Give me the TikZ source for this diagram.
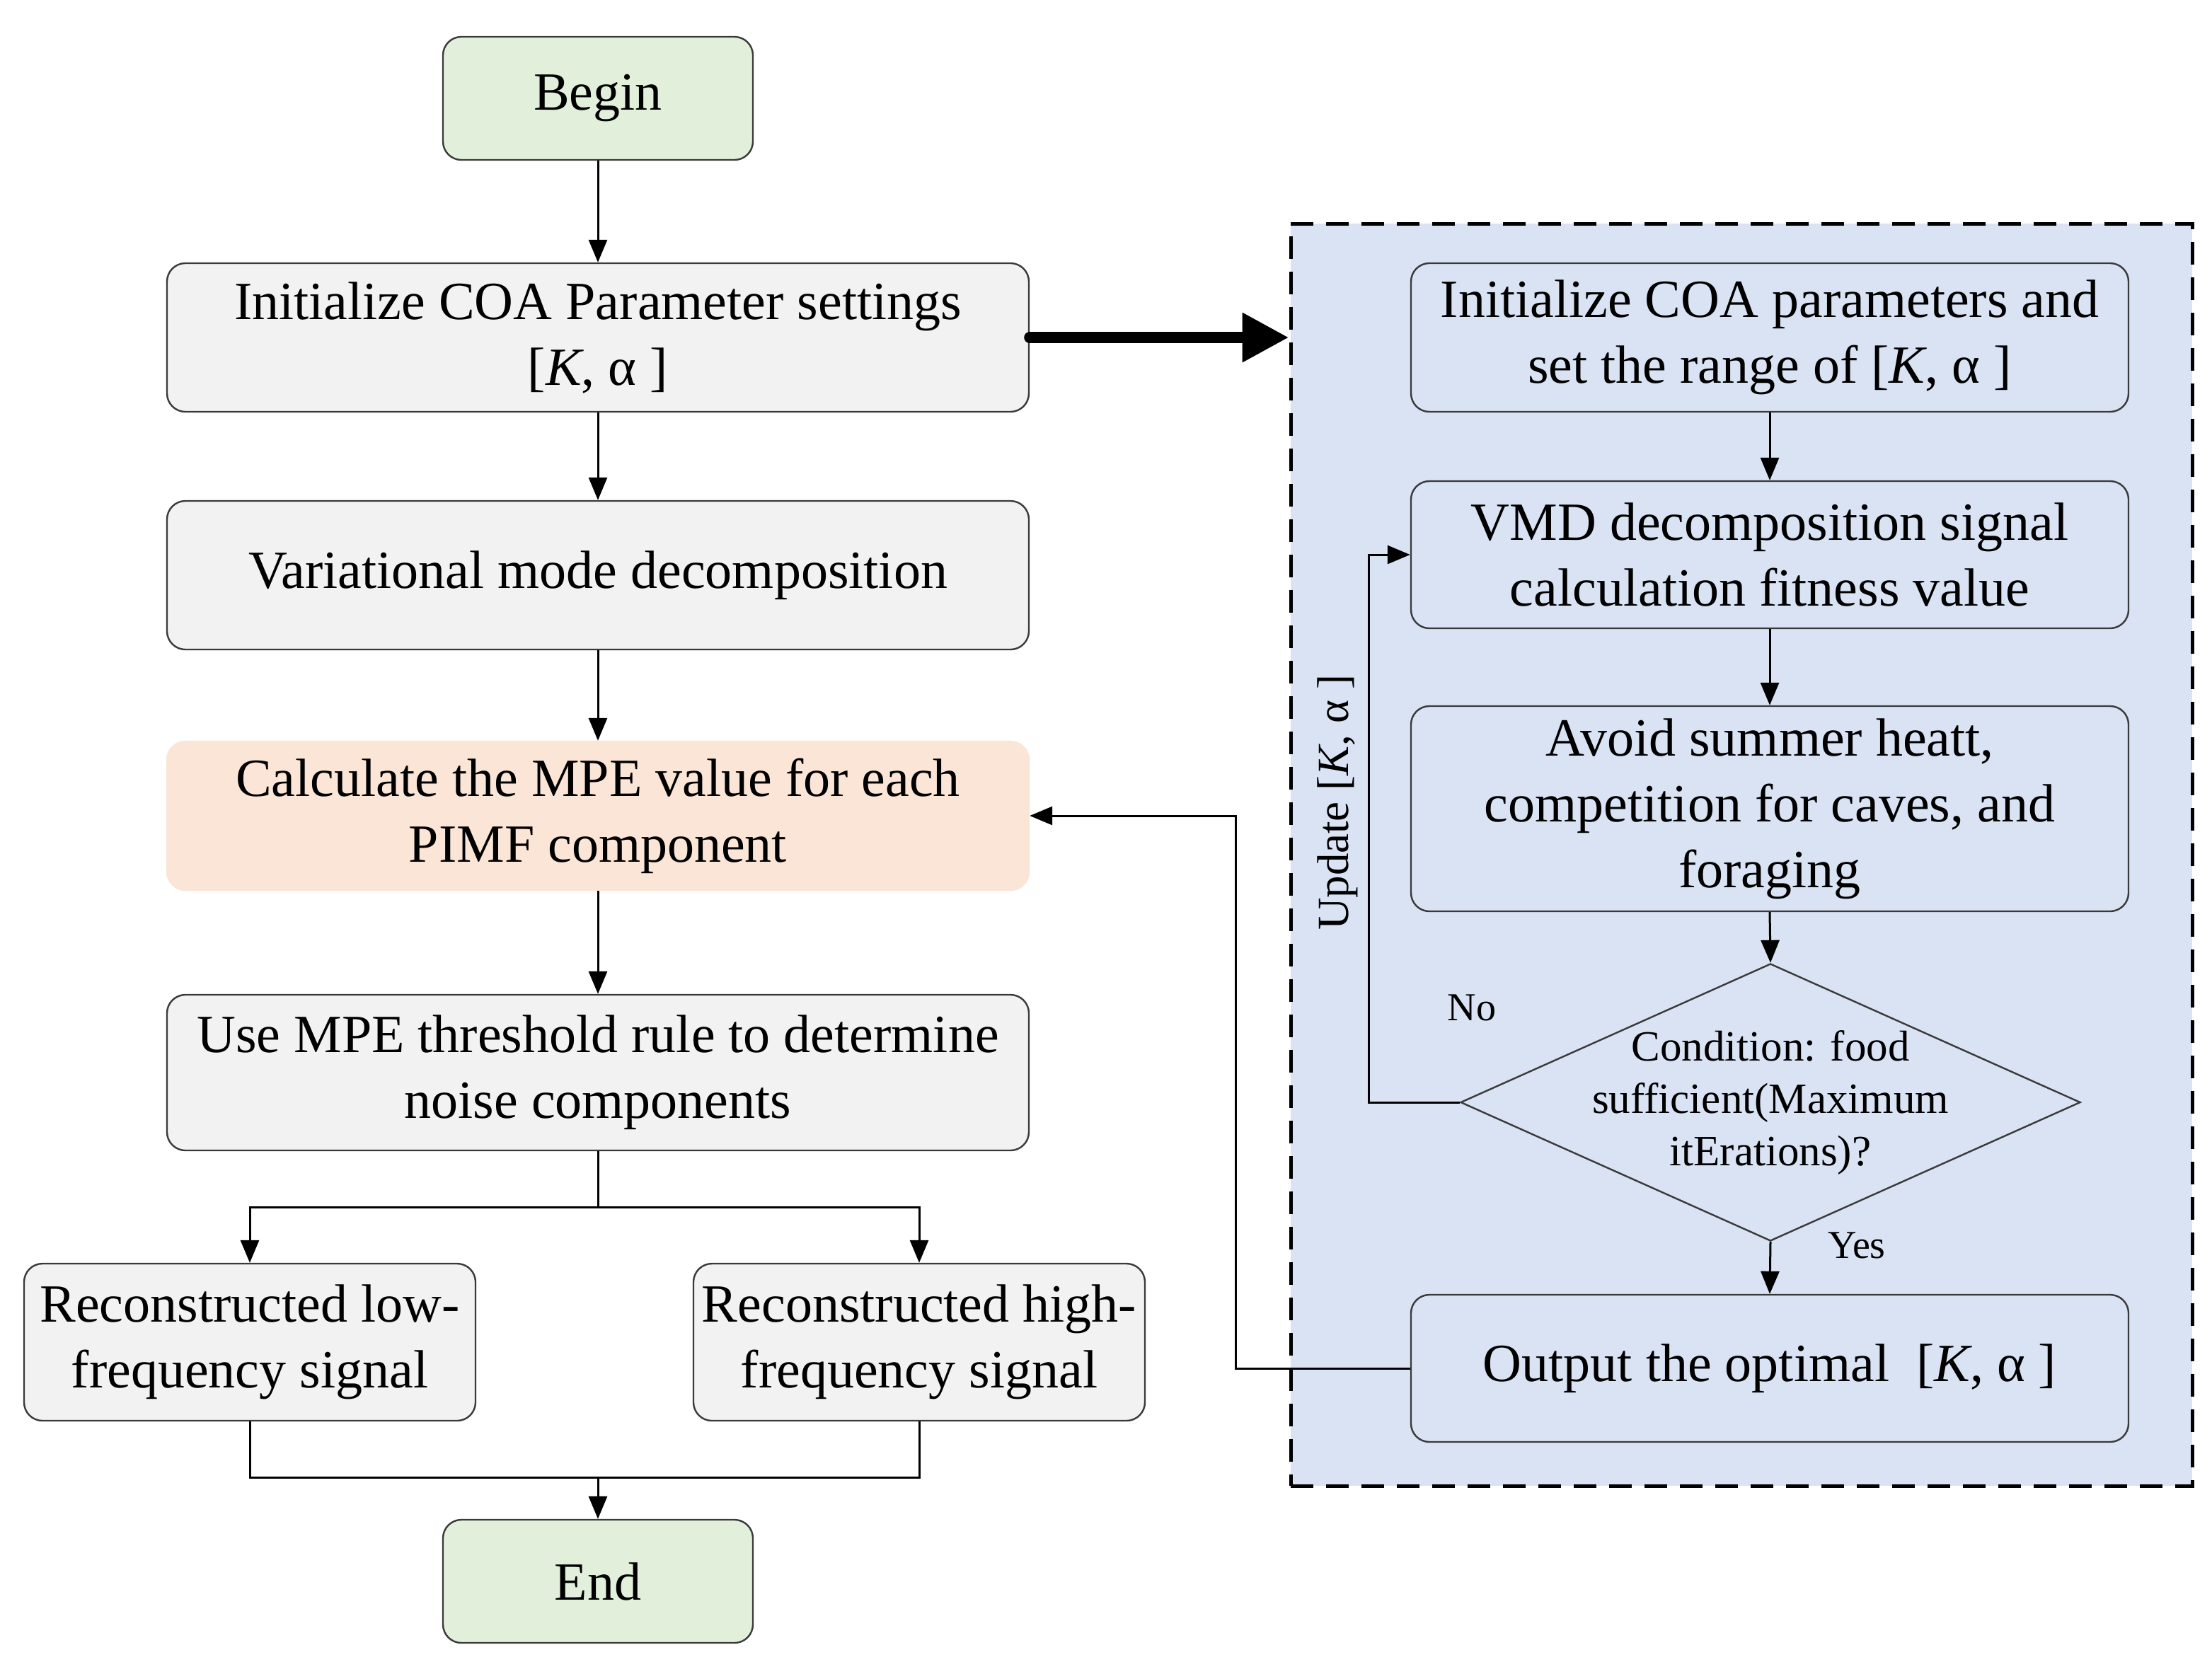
\documentclass[tikz,border=0pt]{standalone}
\usepackage{fontspec}
\setmainfont{Liberation Serif}
\usetikzlibrary{arrows.meta,shapes.geometric}
\definecolor{gfill}{HTML}{E2EFDA}
\definecolor{bfill}{HTML}{F2F2F2}
\definecolor{ofill}{HTML}{FBE5D6}
\definecolor{rfill}{HTML}{DAE3F3}
\definecolor{edge}{HTML}{3A3A3A}
\begin{document}
\begin{tikzpicture}[x=1bp,y=-1bp,
  basebox/.style={rectangle, rounded corners=13bp, draw=edge, line width=1.2bp, align=center, inner sep=0pt, font=\fontsize{38bp}{46.5bp}\selectfont},
  termbox/.style={basebox, fill=gfill, minimum width=219bp, minimum height=87bp},
  widebox/.style={basebox, fill=bfill, minimum width=609bp, minimum height=105bp},
  halfbox/.style={basebox, fill=bfill, minimum width=319bp, minimum height=111bp},
  rbox/.style={basebox, minimum width=507bp, minimum height=104bp},
  arr/.style={-{Triangle[length=16bp,width=13bp]}, line width=1.5bp, draw=black},
  plain/.style={line width=1.5bp, draw=black},
  bigarr/.style={-{Triangle[length=33bp,width=33bp]}, line width=8bp, line cap=round},
  lbl/.style={font=\fontsize{28bp}{34bp}\selectfont, inner sep=0pt}
]
\useasboundingbox (0,0) rectangle (1563,1170.5);
% dashed region
\node[rectangle, draw=black, fill=rfill, line width=2.5bp, dash pattern=on 16bp off 9bp, minimum width=637bp, minimum height=892bp, inner sep=0pt] (region) at (1230.5,604) {};
% left column
\node[termbox] (begin) at (422.5,69.5) {Begin};
\node[widebox] (init) at (422.5,238.5) {Initialize COA Parameter settings\\{}[\textit{K}, α ]};
\node[widebox] (vmd) at (422.5,406.5) {Variational mode decomposition};
\node[widebox, fill=ofill, draw=ofill] (mpe) at (422.5,576.5) {Calculate the MPE value for each\\PIMF component};
\node[widebox, minimum height=110bp] (thr) at (422.5,758) {Use MPE threshold rule to determine\\noise components};
\node[halfbox] (low) at (176.5,948.5) {Reconstructed low-\\frequency signal};
\node[halfbox] (high) at (649.5,948.5) {Reconstructed high-\\frequency signal};
\node[termbox] (end) at (422.5,1117.5) {End};
% right column
\node[rbox, minimum height=105bp] (r1) at (1250.5,238.5) {Initialize COA parameters and\\set the range of [\textit{K}, α ]};
\node[rbox] (r2) at (1250.5,392) {VMD decomposition signal\\calculation fitness value};
\node[rbox, minimum height=145bp] (r3) at (1250.5,571.5) {Avoid summer heatt,\\competition for caves, and\\foraging};
\node[diamond, draw=edge, line width=1.2bp, minimum width=438bp, minimum height=196bp, inner sep=0pt] (dia) at (1251,779) {};
\node[align=center, inner sep=0pt, font=\fontsize{30.5bp}{37bp}\selectfont] (diatext) at (1251,779) {Condition: food\\sufficient(Maximum\\itErations)?};
\node[rbox] (r5) at (1250.5,967) {Output the optimal\enspace[\textit{K}, α ]};
% labels
\node[lbl] (no) at (1040,712) {No};
\node[lbl] (yes) at (1312,880) {Yes};
\node[lbl, font=\fontsize{31.5bp}{37bp}\selectfont, rotate=90] (upd) at (945,567) {Update [\textit{K}, α ]};
% coordinates
\coordinate (split) at (422.5,853);
\coordinate (merge) at (422.5,1044);
\coordinate (lp) at (967,779);
\coordinate (op) at (873,967);
% left connectors
\draw[arr] (begin.south) -- (init.north);
\draw[arr] (init.south) -- (vmd.north);
\draw[arr] (vmd.south) -- (mpe.north);
\draw[arr] (mpe.south) -- (thr.north);
\draw[plain] (thr.south) -- (split);
\draw[arr] (split) -| (low.north);
\draw[arr] (split) -| (high.north);
\draw[plain] (low.south) |- (merge) -| (high.south);
\draw[arr] (merge) -- (end.north);
% big arrow
\draw[bigarr] (init.east) -- (region.west |- init.east);
% right connectors
\draw[arr] (r1.south) -- (r2.north);
\draw[arr] (r2.south) -- (r3.north);
\draw[arr] (r3.south) -- (dia.north);
\draw[arr] (dia.south) -- (r5.north);
\draw[arr] (dia.west) -- (lp) |- (r2.west);
\draw[arr] (r5.west) -- (op) |- (mpe.east);
\end{tikzpicture}
\end{document}
